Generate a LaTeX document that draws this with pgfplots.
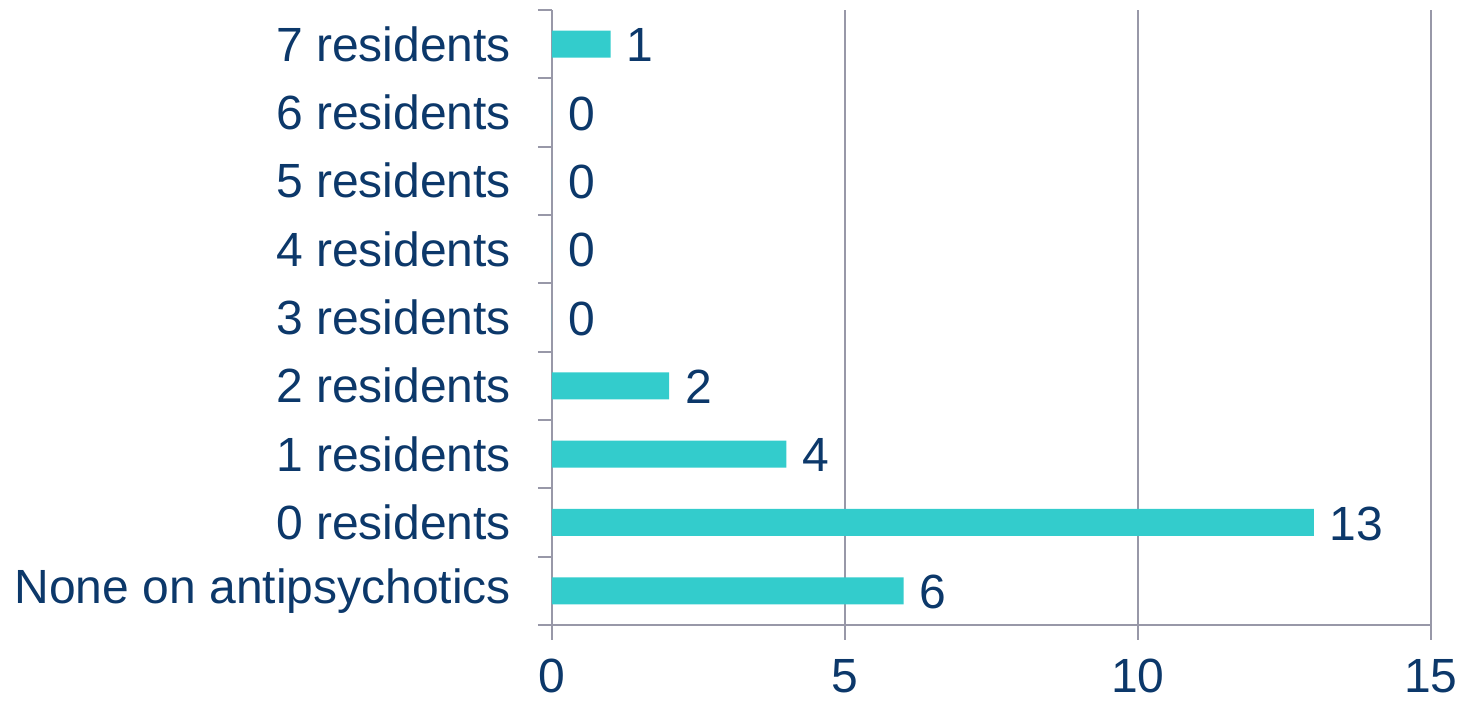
\documentclass[border=0pt]{standalone}
\usepackage{pgfplots}
\pgfplotsset{compat=1.18}
\usepackage{fontspec}
\setmainfont{Liberation Sans}
\definecolor{barc}{RGB}{51,204,204}
\definecolor{txt}{RGB}{12,56,106}
\definecolor{gridc}{RGB}{152,152,168}
\begin{document}
\begin{tikzpicture}
\useasboundingbox (-276pt,-38pt) rectangle (455.5pt,312.5pt);
\begin{axis}[
  at={(0,0)}, anchor=south west,
  scale only axis,
  width=439.5pt, height=307.5pt,
  xbar, bar width=13.5pt,
  xmin=0, xmax=15,
  ymin=-0.5, ymax=8.5,
  xtick={0,5,10,15},
  ytick={0,...,8},
  yticklabels={None on antipsychotics,0 residents,1 residents,2 residents,3 residents,4 residents,5 residents,6 residents,7 residents},
  minor ytick={-0.5,0.5,...,8.5},
  axis lines=left,
  axis line style={-, draw=gridc, line width=0.9pt},
  xmajorgrids, major grid style={draw=gridc, line width=0.9pt},
  tick align=outside,
  major tick length=7.5pt,
  minor tick length=7pt,
  x tick style={draw=gridc, line width=0.9pt},
  y tick style={draw=none},
  minor y tick style={draw=gridc, line width=0.9pt},
  /pgf/number format/assume math mode=true,
  tick label style={font=\fontsize{24}{28}\selectfont, text=txt},
  yticklabel style={xshift=-9.5pt},
  xticklabel style={yshift=-6pt},
  nodes near coords,
  nodes near coords style={font=\fontsize{24}{28}\selectfont, text=txt, anchor=west, xshift=4.5pt, yshift=-0.5pt},
  clip=false,
]
\addplot[draw=none, fill=barc] coordinates {
(6,0) (13,1) (4,2) (2,3) (0,4) (0,5) (0,6) (0,7) (1,8)
};
\end{axis}
\end{tikzpicture}
\end{document}
